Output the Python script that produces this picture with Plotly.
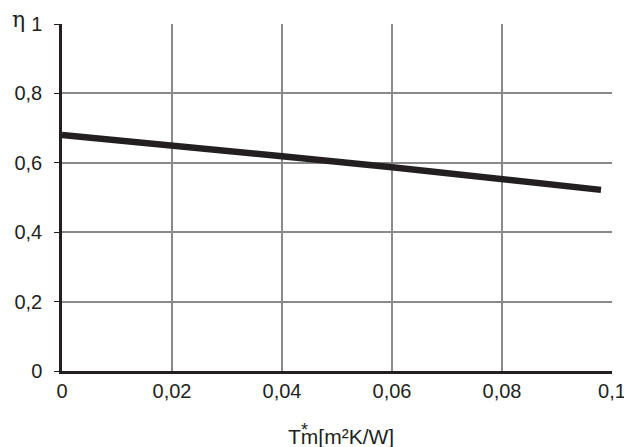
import plotly.graph_objects as go

x_vals = [0.0, 0.02, 0.04, 0.06, 0.08, 0.098]
eta_vals = [0.68, 0.651, 0.619, 0.587, 0.554, 0.522]

x_ticks = [0, 0.02, 0.04, 0.06, 0.08, 0.1]
x_ticktext = ["0", "0,02", "0,04", "0,06", "0,08", "0,1"]
y_ticks = [0, 0.2, 0.4, 0.6, 0.8, 1.0]
y_ticktext = ["0", "0,2", "0,4", "0,6", "0,8", "1"]

font = "Liberation Sans, Arial, sans-serif"

fig = go.Figure()
fig.add_trace(go.Scatter(x=x_vals, y=eta_vals, mode="lines",
                         line=dict(color="#231f20", width=6.5), showlegend=False))

fig.update_layout(
    width=624, height=447,
    margin=dict(l=62, r=12, t=24, b=76),
    paper_bgcolor="white", plot_bgcolor="white",
    font=dict(family=font, size=20, color="#231f20"),
)
fig.update_xaxes(range=[0, 0.1], tickvals=x_ticks, ticktext=x_ticktext,
                 showgrid=True, gridcolor="#8a8a8a", gridwidth=1.5,
                 showline=True, linecolor="#231f20", linewidth=2.5,
                 ticks="", zeroline=False, tickfont=dict(size=20),
                 automargin=False, ticklabelstandoff=0,
                 ticklabeloverflow="allow")
fig.update_yaxes(range=[0, 1], tickvals=y_ticks, ticktext=y_ticktext,
                 showgrid=True, gridcolor="#8a8a8a", gridwidth=1.5,
                 showline=True, linecolor="#231f20", linewidth=2.5,
                 ticks="outside", ticklen=5, tickcolor="#231f20",
                 zeroline=False, tickfont=dict(size=20),
                 automargin=False, ticklabelstandoff=8)

fig.add_annotation(text="Tm[m²K/W]", xref="paper", yref="paper",
                   x=0.508, y=-0.19, showarrow=False, yanchor="middle",
                   font=dict(size=21))
fig.add_annotation(text="*", xref="paper", yref="paper",
                   x=0.441, y=-0.17, showarrow=False, yanchor="middle",
                   font=dict(size=18))
fig.add_annotation(text="η", xref="paper", yref="paper",
                   x=-0.08, y=1.012, showarrow=False, xanchor="center",
                   yanchor="middle",
                   font=dict(size=22, family="DejaVu Serif, serif"))

fig.write_html("out.html",
               config={"displayModeBar": False},
               post_script="document.body.style.margin='0';"
                           "document.body.style.overflow='hidden';")
